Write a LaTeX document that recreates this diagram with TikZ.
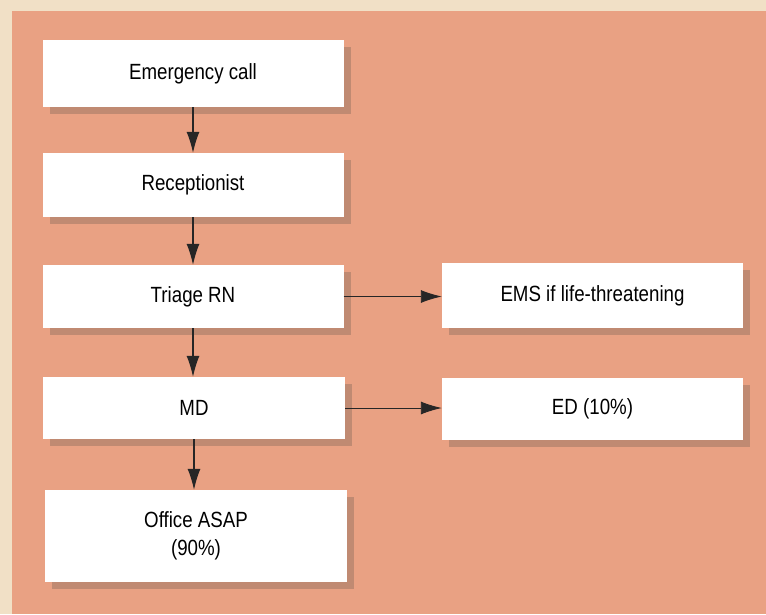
\documentclass[tikz,border=0pt]{standalone}
\usepackage{fontspec}
\setmainfont{Liberation Sans}[FakeStretch=0.85]
\usetikzlibrary{shadows,arrows.meta}
\definecolor{salmon}{HTML}{E9A183}
\definecolor{cream}{HTML}{F1E0C6}
\definecolor{shadowc}{HTML}{C08A72}
\begin{document}
\begin{tikzpicture}[x=1pt,y=-1pt,
  box/.style={fill=white, minimum width=301pt, inner sep=0pt, font=\fontsize{22}{28}\selectfont, align=center,
    general shadow={fill=shadowc, shadow xshift=7pt, shadow yshift=-7pt}},
  arr/.style={-{Latex[length=21pt,width=13pt]}, line width=1.1pt, black!85}]
\useasboundingbox (0,0) rectangle (766,614);
\fill[cream] (0,0) rectangle (766,614);
\fill[salmon] (12,11) rectangle (766,614);

\node[box, minimum height=67pt] (e) at (193,73.5) {Emergency call};
\node[box, minimum height=64pt] (r) at (193,185) {Receptionist};
\node[box, minimum height=63pt] (t) at (193,296.5) {Triage RN};
\node[box, minimum height=62pt, minimum width=302pt] (m) at (194,408) {MD};
\node[box, minimum height=92pt, minimum width=302pt] (o) at (196,536) {Office ASAP\\(90\%)};
\node[box, minimum height=65pt] (ems) at (592.5,295.5) {EMS if life-threatening};
\node[box, minimum height=62pt] (ed) at (592.5,409) {ED (10\%)};

\draw[arr] (e.south) -- (r.north);
\draw[arr] (r.south) -- (t.north);
\draw[arr] (t.south) -- (t.south |- m.north);
\draw[arr] (m.south) -- (m.south |- o.north);
\draw[arr, line width=0.9pt] (t.east) -- (t.east -| ems.west);
\draw[arr, line width=0.9pt] (m.east) -- (m.east -| ed.west);
\end{tikzpicture}
\end{document}
